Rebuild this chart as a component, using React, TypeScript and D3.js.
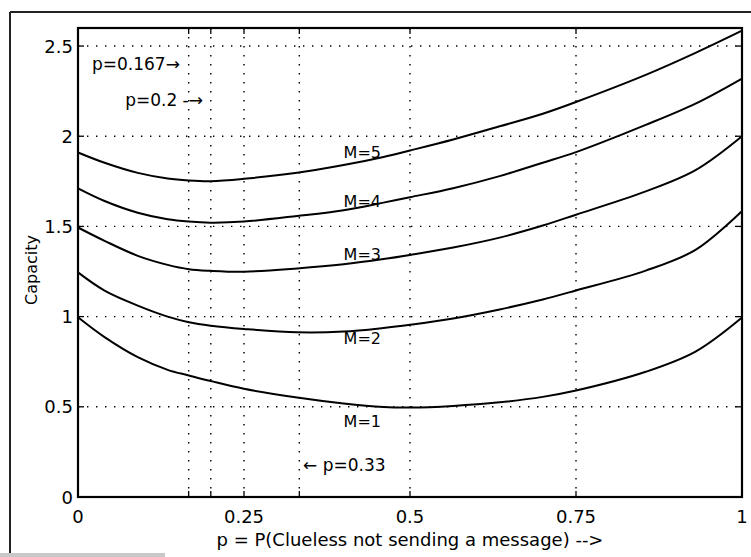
import React from "react";
import * as d3 from "d3";

// p values sampled along the x axis
const P = [0, 0.04, 0.09, 0.135, 0.167, 0.2, 0.25, 0.33, 0.4, 0.46, 0.5, 0.565, 0.635, 0.7, 0.75, 0.855, 0.93, 1];
// capacity curves
const M1 = [0.996, 0.886, 0.775, 0.705, 0.674, 0.643, 0.6, 0.551, 0.518, 0.499, 0.496, 0.505, 0.525, 0.555, 0.59, 0.694, 0.806, 0.995];
const M2 = [1.245, 1.144, 1.061, 1.0, 0.969, 0.95, 0.932, 0.913, 0.917, 0.937, 0.955, 0.99, 1.04, 1.095, 1.145, 1.255, 1.37, 1.585];
const M3 = [1.494, 1.42, 1.337, 1.287, 1.263, 1.254, 1.249, 1.267, 1.29, 1.319, 1.342, 1.383, 1.438, 1.505, 1.565, 1.694, 1.812, 2.0];
const M4 = [1.711, 1.641, 1.576, 1.54, 1.527, 1.521, 1.527, 1.558, 1.59, 1.632, 1.662, 1.712, 1.779, 1.853, 1.912, 2.063, 2.181, 2.32];
const M5 = [1.91, 1.853, 1.797, 1.766, 1.755, 1.751, 1.764, 1.797, 1.84, 1.885, 1.921, 1.982, 2.055, 2.125, 2.19, 2.34, 2.462, 2.585];
const SERIES = [M1, M2, M3, M4, M5];
const SERIES_LABELS = ["M=1", "M=2", "M=3", "M=4", "M=5"];
// label anchor positions (p, capacity) for the curve labels
const LABEL_P = [0.4, 0.4, 0.4, 0.4, 0.4];
const LABEL_C = [0.387, 0.848, 1.312, 1.61, 1.88];

const X_TICKS = [0, 0.25, 0.5, 0.75, 1];
const X_TICK_LABELS = ["0", "0.25", "0.5", "0.75", "1"];
const X_GRID = [1 / 6, 0.2, 0.25, 1 / 3, 0.5, 0.75];
const Y_TICKS = [0, 0.5, 1, 1.5, 2, 2.5];
const Y_TICK_LABELS = ["0", "0.5", "1", "1.5", "2", "2.5"];

const ANNOTATIONS = [
  { text: "p=0.167\u2192", p: 0.021, c: 2.365 },
  { text: "p=0.2 -\u2192", p: 0.071, c: 2.165 },
  { text: "\u2190 p=0.33", p: 0.339, c: 0.144 },
];

const FONT = "'DejaVu Sans', sans-serif";

export default function App() {
  const W = 751, H = 557;
  const L = 78, R = 742, T = 28, B = 497;
  const x = d3.scaleLinear().domain([0, 1]).range([L, R]);
  const y = d3.scaleLinear().domain([0, 2.6]).range([B, T]);
  const line = d3
    .line<number>()
    .x((_, i) => x(P[i]))
    .y((d) => y(d))
    .curve(d3.curveCatmullRom.alpha(0.5));

  return (
    <svg width={W} height={H} style={{ position: "absolute", left: 0, top: 0, background: "#fff" }} fontFamily={FONT}>
      <rect x={0} y={0} width={W} height={H} fill="#fff" />
      {/* outer frame of the scanned figure */}
      <line x1={10} y1={12} x2={W} y2={12} stroke="#222" strokeWidth={2} />
      <line x1={10} y1={12} x2={10} y2={H} stroke="#222" strokeWidth={2} />
      <rect x={0} y={553} width={165} height={4} fill="#c8c8c8" />

      {/* grid */}
      {X_GRID.map((g, i) => (
        <line key={"xg" + i} x1={x(g)} x2={x(g)} y1={T} y2={B} stroke="#000" strokeWidth={1.4} strokeDasharray="1.4,7.6" />
      ))}
      {Y_TICKS.filter((t) => t > 0).map((t, i) => (
        <line key={"yg" + i} x1={L} x2={R} y1={y(t)} y2={y(t)} stroke="#000" strokeWidth={1.4} strokeDasharray="1.4,7.6" />
      ))}

      {/* tick marks */}
      {X_GRID.map((g, i) => (
        <g key={"xt" + i}>
          <line x1={x(g)} x2={x(g)} y1={B} y2={B - 6} stroke="#000" strokeWidth={1.3} />
          <line x1={x(g)} x2={x(g)} y1={T} y2={T + 6} stroke="#000" strokeWidth={1.3} />
        </g>
      ))}
      {Y_TICKS.map((t, i) => (
        <g key={"yt" + i}>
          <line x1={L} x2={L + 6} y1={y(t)} y2={y(t)} stroke="#000" strokeWidth={1.3} />
          <line x1={R} x2={R - 6} y1={y(t)} y2={y(t)} stroke="#000" strokeWidth={1.3} />
        </g>
      ))}

      {/* curves */}
      {SERIES.map((s, i) => (
        <path key={"s" + i} d={line(s) || ""} fill="none" stroke="#000" strokeWidth={2} />
      ))}

      {/* plot box */}
      <rect x={L} y={T} width={R - L} height={B - T} fill="none" stroke="#000" strokeWidth={2.2} />

      {/* tick labels */}
      {X_TICKS.map((t, i) => (
        <text key={"xl" + i} x={x(t)} y={523} textAnchor="middle" fontSize={18} fill="#000">
          {X_TICK_LABELS[i]}
        </text>
      ))}
      {Y_TICKS.map((t, i) => (
        <text key={"yl" + i} x={73} y={y(t) + 6.5} textAnchor="end" fontSize={18} fill="#000">
          {Y_TICK_LABELS[i]}
        </text>
      ))}

      {/* curve labels */}
      {SERIES_LABELS.map((lab, i) => (
        <text key={"ml" + i} x={x(LABEL_P[i])} y={y(LABEL_C[i])} fontSize={16} fill="#000">
          {lab}
        </text>
      ))}

      {/* annotations */}
      {ANNOTATIONS.map((a, i) => (
        <text key={"an" + i} x={x(a.p)} y={y(a.c)} fontSize={17} fill="#000">
          {a.text}
        </text>
      ))}

      {/* axis labels */}
      <text x={(L + R) / 2} y={546} textAnchor="middle" fontSize={18} fill="#000">
        p = P(Clueless not sending a message) --&gt;
      </text>
      <text transform={`translate(37,${270}) rotate(-90)`} textAnchor="middle" fontSize={16} fill="#000">
        Capacity
      </text>
    </svg>
  );
}
